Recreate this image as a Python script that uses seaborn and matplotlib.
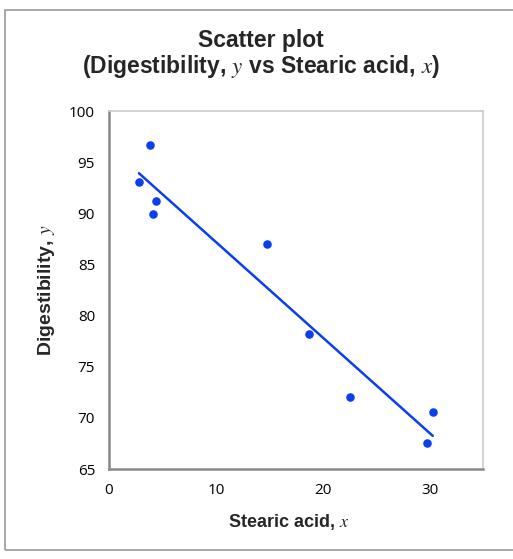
import matplotlib
matplotlib.use("Agg")
import matplotlib.pyplot as plt
import pandas as pd
import seaborn as sns
from matplotlib.patches import Rectangle

stearic_acid = [29.8, 30.3, 22.6, 18.7, 14.8, 4.1, 4.4, 2.8, 3.8]
digestibility = [67.5, 70.6, 72.0, 78.2, 87.0, 89.9, 91.2, 93.1, 96.7]
x_ticks = [0, 10, 20, 30]
y_ticks = [65, 70, 75, 80, 85, 90, 95, 100]

data = pd.DataFrame({"x": stearic_acid, "y": digestibility})

sns.set_style("white")
plt.rcParams["font.family"] = ["Liberation Sans", "DejaVu Sans"]
plt.rcParams["mathtext.fontset"] = "stix"

fig = plt.figure(figsize=(5.13, 5.59), dpi=100)
ax = fig.add_axes([0.2125, 0.161, 0.729, 0.6404])

sns.regplot(
    data=data,
    x="x",
    y="y",
    ci=None,
    ax=ax,
    color="#0a3ff0",
    scatter_kws={"s": 38, "alpha": 1, "linewidths": 0, "zorder": 3},
    line_kws={"lw": 1.8, "color": "#0a3ff0"},
)

ax.set_xlim(0, 35)
ax.set_ylim(65, 100)
ax.set_xticks(x_ticks)
ax.set_yticks(y_ticks)
ax.tick_params(
    direction="inout", length=8, width=1, color="#888888",
    labelcolor="black", pad=6,
)
for lab in ax.get_xticklabels() + ax.get_yticklabels():
    lab.set_fontfamily("Open Sans")
    lab.set_fontsize(11)

for side in ["left", "bottom"]:
    ax.spines[side].set_color("#888888")
    ax.spines[side].set_linewidth(1.8)
for side in ["top", "right"]:
    ax.spines[side].set_color("#cccccc")
    ax.spines[side].set_linewidth(1.2)

ax.set_xlabel("Stearic acid, $x$", fontsize=13, fontweight="bold")
ax.xaxis.set_label_coords(0.48, -0.12)
ax.set_ylabel("Digestibility, $y$", fontsize=14, fontweight="bold")
ax.yaxis.set_label_coords(-0.138, 0.5)
fig.suptitle(
    "Scatter plot\n(Digestibility, $y$ vs Stearic acid, $x$)",
    x=0.509, y=0.948, va="top",
    fontsize=16.5, fontweight="bold", linespacing=1.05,
)

fig.patches.append(
    Rectangle((5 / 513, 9 / 559), 1.2, 540 / 559, transform=fig.transFigure,
              fill=False, edgecolor="#999999", lw=1.2)
)

fig.savefig("out.png", dpi=100)
